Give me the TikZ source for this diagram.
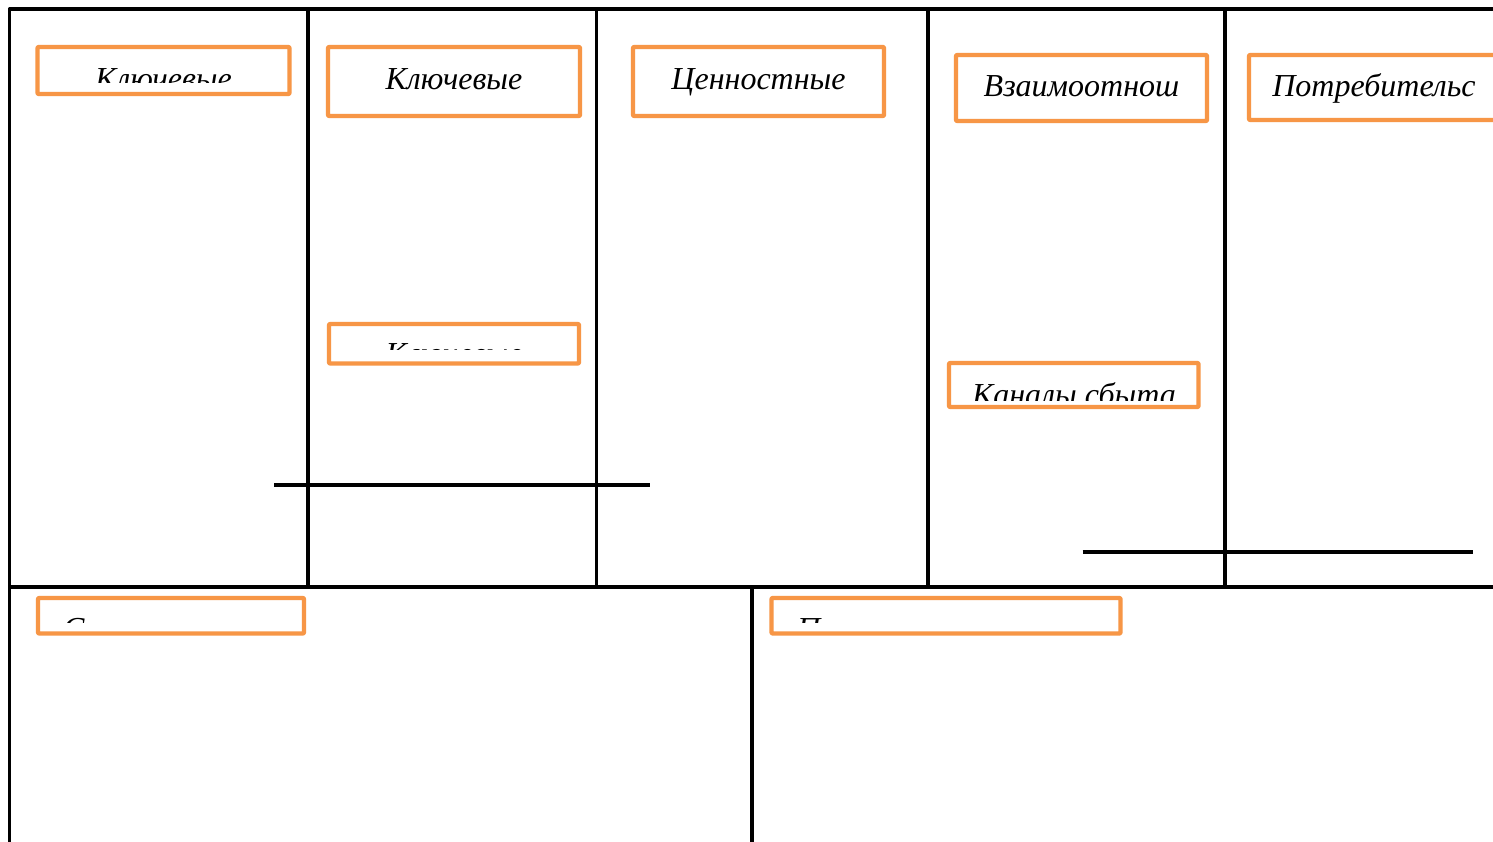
\documentclass[tikz,border=0pt]{standalone}
\usepackage{fontspec}
\setmainfont{Liberation Serif}
\definecolor{boxorange}{HTML}{F79646}
\tikzset{
  gridline/.style={draw=black, line width=3.7pt, line join=round},
  obox/.style={draw=boxorange, line width=4.4pt, line join=round, rounded corners=1pt, inner sep=0pt, outer sep=0pt, anchor=north west},
  lbl/.style={font=\fontsize{32}{38}\selectfont\itshape, inner sep=0pt, anchor=base},
  lblw/.style={lbl, anchor=base west}
}
\begin{document}
\begin{tikzpicture}[x=1pt,y=-1pt]
\useasboundingbox (0,0) rectangle (1493,842);
\clip (0,0) rectangle (1493,842);
\fill[white] (0,0) rectangle (1493,842);
% frame
\coordinate (tl) at (9.5,9);
\coordinate (tr) at (1510,9);
\coordinate (bl) at (9.5,860);
\draw[gridline] (bl) -- (tl) -- (tr);
\coordinate (m1) at (9.5,587);
\coordinate (m2) at (1510,587);
\draw[gridline] (m1) -- (m2);
\foreach \x/\n in {308.3/v1,596.5/v2,928/v3,1225.3/v4}{
  \coordinate (\n a) at (\x,9);
  \coordinate (\n b) at (\x,587);
  \draw[gridline] (\n a) -- (\n b);
}
\coordinate (v5a) at (752,587);
\coordinate (v5b) at (752,860);
\draw[gridline] (v5a) -- (v5b);
\coordinate (s1a) at (274.3,484.7);
\coordinate (s1b) at (650,484.7);
\draw[gridline] (s1a) -- (s1b);
\coordinate (s2a) at (1082.7,552);
\coordinate (s2b) at (1472.7,552);
\draw[gridline] (s2a) -- (s2b);
% orange boxes
\node[obox, minimum width=252pt, minimum height=47pt] (b1) at (37.5,47) {};
\node[obox, minimum width=252pt, minimum height=69pt] (b2) at (328,47) {};
\node[obox, minimum width=251pt, minimum height=69pt] (b3) at (633,47) {};
\node[obox, minimum width=251pt, minimum height=66pt] (b4) at (956,55) {};
\node[obox, minimum width=260pt, minimum height=65pt] (b5) at (1249,55) {};
\node[obox, minimum width=250pt, minimum height=39.5pt] (b6) at (329,324) {};
\node[obox, minimum width=249.5pt, minimum height=44pt] (b7) at (949,363) {};
\node[obox, minimum width=266pt, minimum height=35.5pt] (b8) at (38,598) {};
\node[obox, minimum width=349pt, minimum height=35.5pt] (b9) at (771.5,598) {};
% texts
\begin{scope}
  \clip (39.5,49) rectangle (287.5,83);
  \node[lbl] (t1) at (163.5,89.5) {Ключевые};
\end{scope}
\node[lbl] (t2) at (454,90) {Ключевые};
\node[lbl] (t3) at (758.5,90) {Ценностные};
\node[lbl] (t4) at (1081.5,97) {Взаимоотнош};
\node[lbl] (t5) at (1374,97) {Потребительс};
\begin{scope}
  \clip (331,326) rectangle (577,349);
  \node[lbl] (t6) at (454,364.5) {Ключевые};
\end{scope}
\begin{scope}
  \clip (951,365) rectangle (1196.5,400);
  \node[lbl] (t7) at (1074,405) {Каналы сбыта};
\end{scope}
\begin{scope}
  \clip (40,600) rectangle (302,622);
  \node[lblw] (t8) at (63,639) {Структура};
\end{scope}
\begin{scope}
  \clip (773.5,600) rectangle (1118.5,622);
  \node[lblw] (t9) at (797,639) {Потоки};
\end{scope}
\end{tikzpicture}
\end{document}
